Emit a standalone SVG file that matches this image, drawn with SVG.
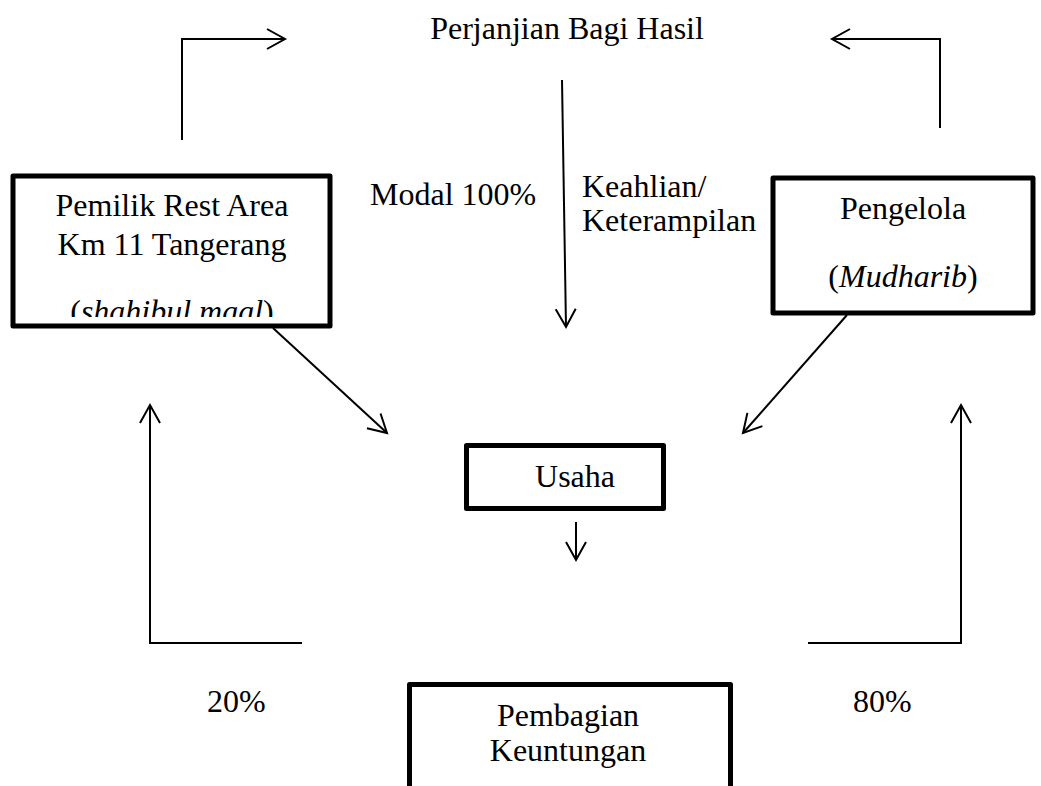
<svg xmlns="http://www.w3.org/2000/svg" width="1041" height="786" viewBox="0 0 1041 786">
<style>
text{font-family:"Liberation Serif","Times New Roman",serif;font-size:32px;fill:#000}
.c{text-anchor:middle}
.box{fill:#fff;stroke:#000;stroke-width:5;stroke-linejoin:round}
.ln{fill:none;stroke:#000;stroke-width:2}
</style>
<defs>
<marker id="ah" markerUnits="userSpaceOnUse" markerWidth="24" markerHeight="26" viewBox="-20 -12 24 24" refX="0" refY="0" orient="auto" overflow="visible">
<path d="M-18,-10 L0,0 L-18,10" fill="none" stroke="#000" stroke-width="2"/>
</marker>
<clipPath id="clipL"><rect x="15" y="285" width="315" height="32"/></clipPath>
</defs>
<rect width="1041" height="786" fill="#fff"/>
<g id="connectors">
<path class="ln" d="M182,140 V39 H285" marker-end="url(#ah)"/>
<path class="ln" d="M940,128 V39 H832" marker-end="url(#ah)"/>
<path class="ln" d="M562,80 L566,327" marker-end="url(#ah)"/>
<path class="ln" d="M273,328 L387,433" marker-end="url(#ah)"/>
<path class="ln" d="M847,315 L743,433" marker-end="url(#ah)"/>
<path class="ln" d="M576,522 V560" marker-end="url(#ah)"/>
<path class="ln" d="M302,643 H150 V405" marker-end="url(#ah)"/>
<path class="ln" d="M808,643 H961 V405" marker-end="url(#ah)"/>
</g>
<g id="labels">
<text class="c" x="567" y="39">Perjanjian Bagi Hasil</text>
<text x="370" y="205">Modal 100%</text>
<text x="582" y="197">Keahlian/</text>
<text x="582" y="231">Keterampilan</text>
<text x="207" y="712">20%</text>
<text x="853" y="712">80%</text>
</g>
<g id="pemilik">
<rect class="box" x="13" y="176" width="317" height="150"/>
<text class="c" x="172" y="216">Pemilik Rest Area</text>
<text class="c" x="172" y="255">Km 11 Tangerang</text>
<text class="c" x="172" y="322" clip-path="url(#clipL)">(<tspan font-style="italic">shahibul maal</tspan>)</text>
</g>
<g id="pengelola">
<rect class="box" x="773" y="178" width="260" height="135"/>
<text class="c" x="903" y="219">Pengelola</text>
<text class="c" x="903" y="287">(<tspan font-style="italic">Mudharib</tspan>)</text>
</g>
<g id="usaha">
<rect class="box" x="466.5" y="445.5" width="197" height="63"/>
<text class="c" x="575" y="487">Usaha</text>
</g>
<g id="pembagian">
<rect class="box" x="409.5" y="684.5" width="321" height="130"/>
<text class="c" x="568" y="726">Pembagian</text>
<text class="c" x="568" y="761">Keuntungan</text>
</g>
</svg>
